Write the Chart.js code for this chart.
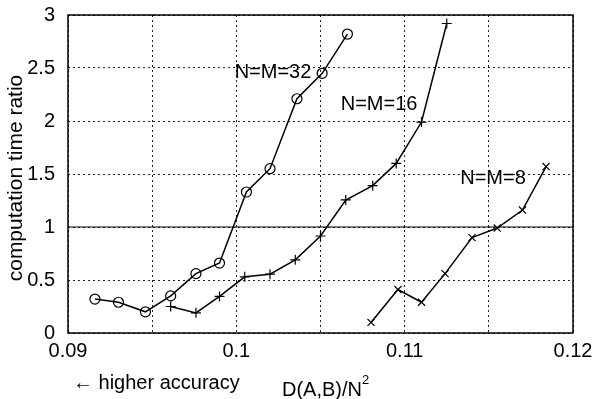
<!DOCTYPE html>
<html>
<head>
<meta charset="utf-8">
<script src="https://cdn.jsdelivr.net/npm/chart.js@4/dist/chart.umd.min.js"></script>
<style>
  body { margin: 0; background: #fff; }
  canvas { display: block; }
</style>
</head>
<body>
<canvas id="chart" width="595" height="399"></canvas>
<script>
// values
const xN32 = [0.0916, 0.0930, 0.0946, 0.0961, 0.0976, 0.0990, 0.1006, 0.1020, 0.1036, 0.1051, 0.1066];
const yN32 = [0.32, 0.29, 0.20, 0.35, 0.56, 0.66, 1.33, 1.55, 2.21, 2.45, 2.82];

const xN16 = [0.0961, 0.0976, 0.0990, 0.1005, 0.1020, 0.1035, 0.1050, 0.1065, 0.1081, 0.1095, 0.1110, 0.1125];
const yN16 = [0.25, 0.19, 0.345, 0.53, 0.555, 0.69, 0.915, 1.255, 1.39, 1.60, 1.99, 2.92];

const xN8 = [0.1080, 0.1096, 0.1110, 0.1124, 0.1140, 0.1155, 0.1170, 0.1184];
const yN8 = [0.10, 0.41, 0.29, 0.56, 0.90, 0.99, 1.16, 1.57];

const xTickLabels = ['0.09', '0.1', '0.11', '0.12'];
const yTickLabels = ['0', '0.5', '1', '1.5', '2', '2.5', '3'];

const FONT = '"Liberation Sans", Arial, Helvetica, sans-serif';

function toPoints(xs, ys) {
  return xs.map((x, i) => ({ x: x, y: ys[i] }));
}

// frame, solid y=1 line, series names and axis titles
const decorations = {
  id: 'decorations',
  beforeDatasetsDraw(chart) {
    const { ctx, chartArea, scales } = chart;
    const y1 = scales.y.getPixelForValue(1);
    ctx.save();
    ctx.strokeStyle = '#000';
    ctx.lineWidth = 1;
    ctx.beginPath();
    ctx.moveTo(chartArea.left, y1);
    ctx.lineTo(chartArea.right, y1);
    ctx.stroke();
    ctx.restore();
  },
  afterDraw(chart) {
    const { ctx, chartArea, scales } = chart;
    ctx.save();
    ctx.strokeStyle = '#000';
    ctx.lineWidth = 1.5;
    ctx.strokeRect(chartArea.left, chartArea.top,
      chartArea.right - chartArea.left, chartArea.bottom - chartArea.top);

    ctx.fillStyle = '#000';
    ctx.font = '20px ' + FONT;
    ctx.textBaseline = 'middle';
    ctx.textAlign = 'left';
    const names = [
      { text: 'N=M=32', x: 0.0999, y: 2.46 },
      { text: 'N=M=16', x: 0.1062, y: 2.16 },
      { text: 'N=M=8', x: 0.1133, y: 1.46 }
    ];
    names.forEach(n => {
      ctx.fillText(n.text, scales.x.getPixelForValue(n.x), scales.y.getPixelForValue(n.y));
    });

    // x title with superscript
    ctx.fillText('D(A,B)/N', 282, 390);
    const w = ctx.measureText('D(A,B)/N').width;
    ctx.font = '13px ' + FONT;
    ctx.fillText('2', 282 + w, 380);

    ctx.font = '20px ' + FONT;
    ctx.fillText('\u2190 higher accuracy', 73, 383);

    // y title
    ctx.font = '21px ' + FONT;
    ctx.translate(16, 178);
    ctx.rotate(-Math.PI / 2);
    ctx.textAlign = 'center';
    ctx.fillText('computation time ratio', 0, 0);
    ctx.restore();
  }
};

const lineStyle = {
  borderColor: '#000',
  borderWidth: 1.5,
  pointBorderColor: '#000',
  pointBackgroundColor: 'rgba(0,0,0,0)',
  pointBorderWidth: 1.2,
  tension: 0,
  fill: false
};

new Chart(document.getElementById('chart'), {
  type: 'line',
  data: {
    datasets: [
      Object.assign({ label: 'N=M=32', data: toPoints(xN32, yN32), pointStyle: 'circle', pointRadius: 5 }, lineStyle),
      Object.assign({ label: 'N=M=16', data: toPoints(xN16, yN16), pointStyle: 'cross', pointRadius: 5 }, lineStyle),
      Object.assign({ label: 'N=M=8', data: toPoints(xN8, yN8), pointStyle: 'crossRot', pointRadius: 5 }, lineStyle)
    ]
  },
  options: {
    responsive: false,
    animation: false,
    layout: { padding: { top: 15, right: 22, left: 0, bottom: 0 } },
    plugins: {
      legend: { display: false },
      tooltip: { enabled: false }
    },
    scales: {
      x: {
        type: 'linear',
        min: 0.09,
        max: 0.12,
        afterFit(scale) {
          scale.height = 66;
          scale.paddingLeft = 0;
          scale.paddingRight = 0;
        },
        ticks: {
          stepSize: 0.005,
          color: '#000',
          padding: 6,
          maxRotation: 0,
          autoSkip: false,
          font: { family: FONT, size: 20 },
          callback(value) {
            const k = Math.round((value - 0.09) / 0.01 * 1000) / 1000;
            return Number.isInteger(k) ? xTickLabels[k] : '';
          }
        },
        grid: { color: '#222', lineWidth: 1, drawTicks: false },
        border: { display: false, dash: [2, 3] }
      },
      y: {
        min: 0,
        max: 3,
        afterFit(scale) {
          scale.width = 68;
          scale.paddingTop = 0;
          scale.paddingBottom = 0;
        },
        ticks: {
          stepSize: 0.5,
          color: '#000',
          padding: 13,
          font: { family: FONT, size: 20 },
          callback(value) {
            return yTickLabels[Math.round(value / 0.5)];
          }
        },
        grid: { color: '#222', lineWidth: 1, drawTicks: false },
        border: { display: false, dash: [2, 3] }
      }
    }
  },
  plugins: [decorations]
});
</script>
</body>
</html>
